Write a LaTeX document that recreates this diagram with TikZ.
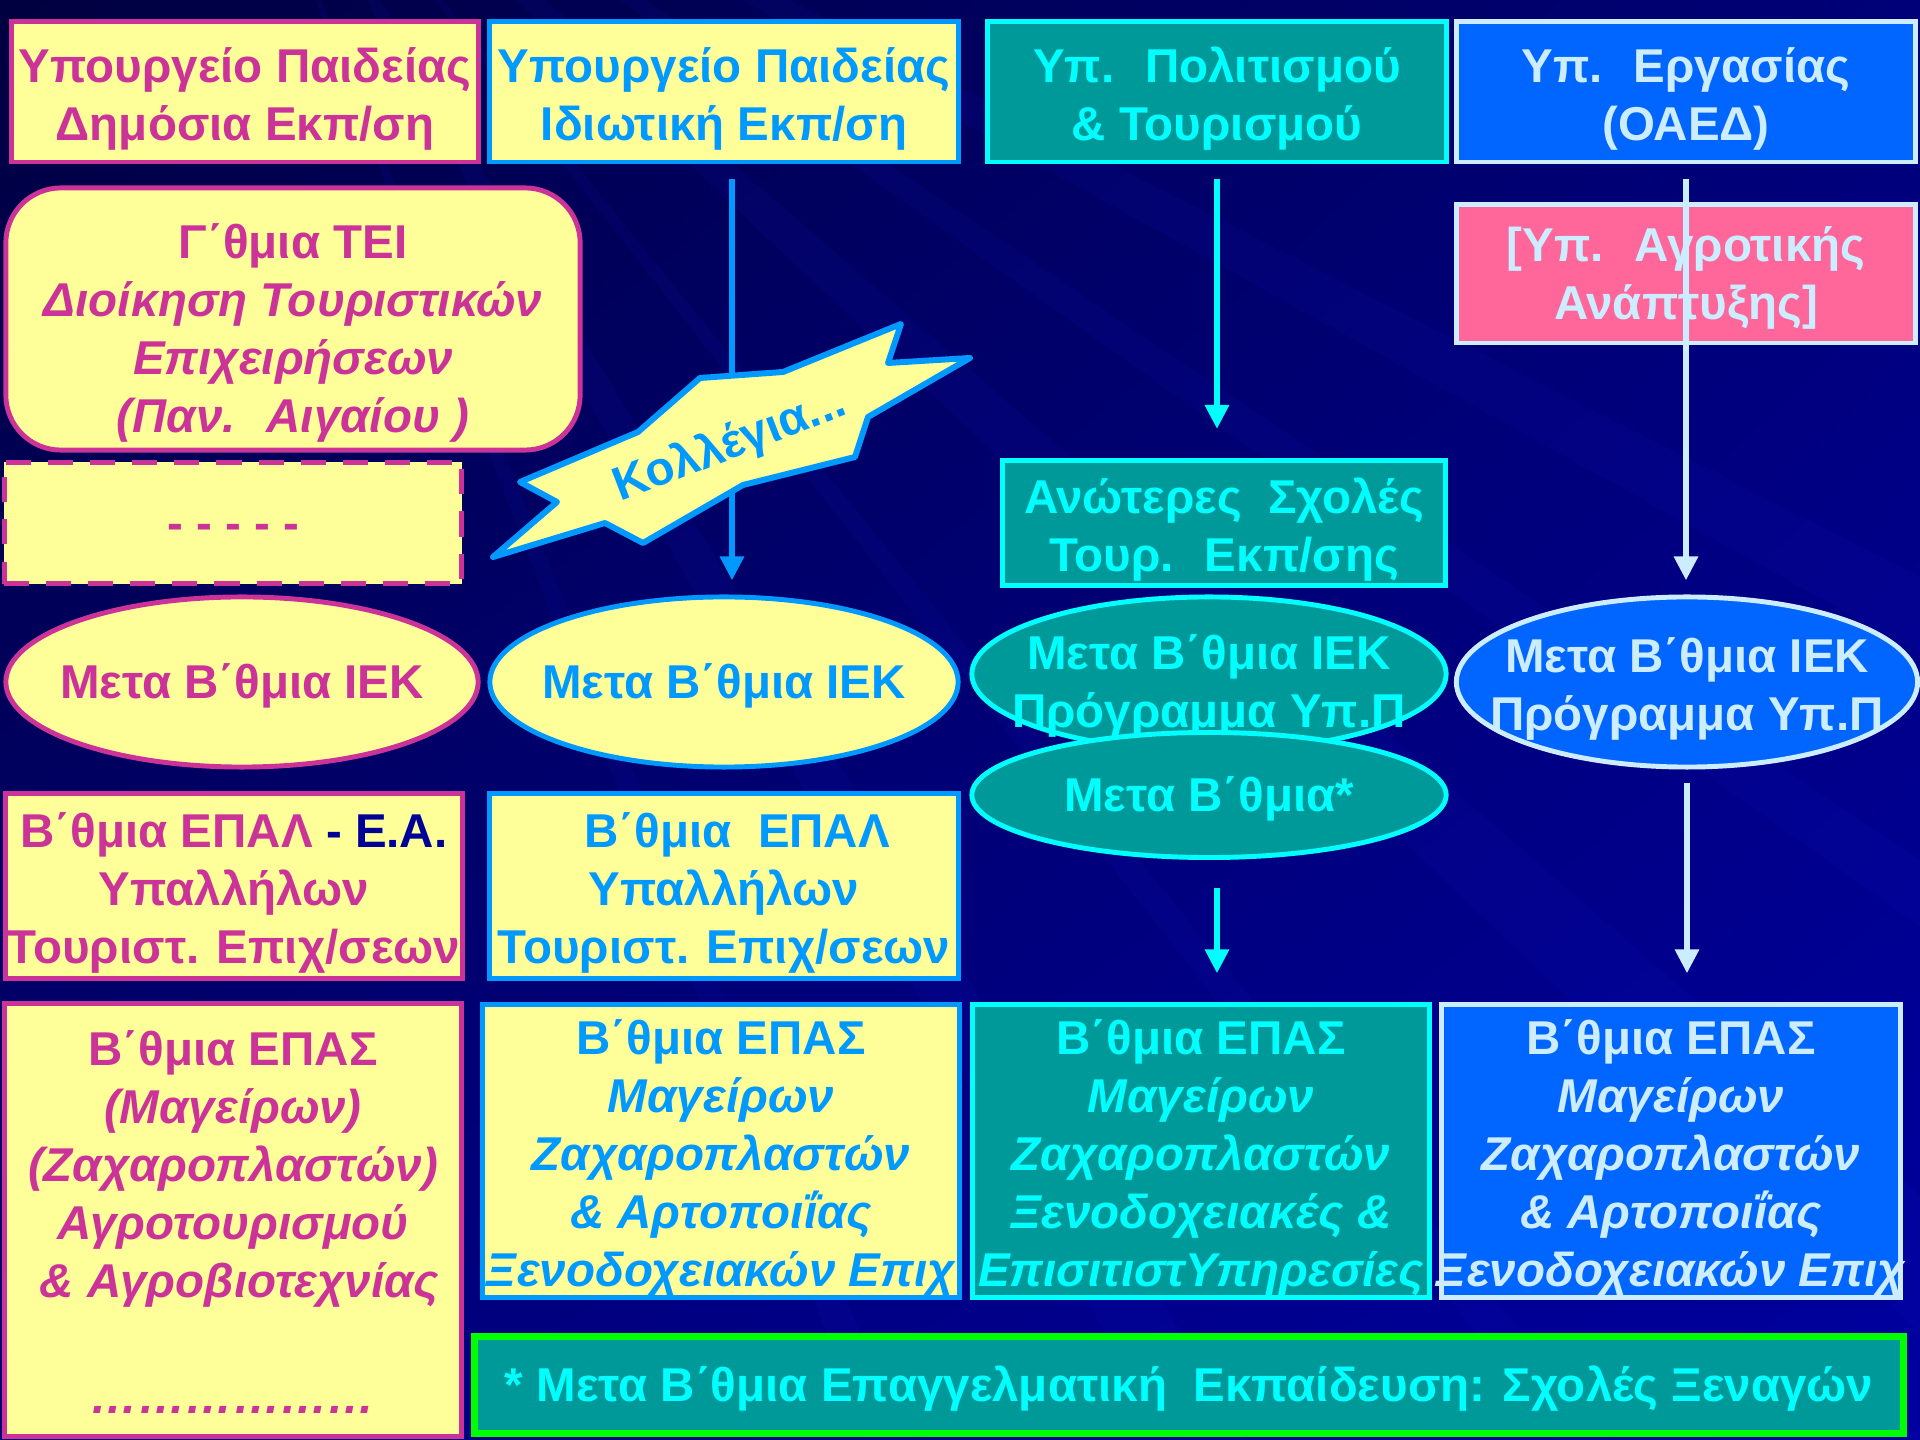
\documentclass[tikz,border=0pt]{standalone}
\usepackage{fontspec}
\setmainfont{Liberation Sans}
\usetikzlibrary{shapes.geometric,arrows.meta,calc,shadings}

\definecolor{ylw}{HTML}{FFFF99}
\definecolor{mag}{HTML}{CC3399}
\definecolor{sky}{HTML}{0099FF}
\definecolor{tea}{HTML}{009999}
\definecolor{cyn}{HTML}{00FFFF}
\definecolor{blu}{HTML}{0066FF}
\definecolor{pale}{HTML}{CCECFF}
\definecolor{pnk}{HTML}{FF6699}
\definecolor{nvy}{HTML}{000099}
\definecolor{grn}{HTML}{00FF00}
\definecolor{bgdark}{HTML}{000040}
\definecolor{bgmid}{HTML}{000078}
\definecolor{bglight}{HTML}{0000A0}
\definecolor{streak}{HTML}{2020D0}

\newcommand\mainsz{\fontsize{13.5pt}{16.5pt}\selectfont}
\newcommand\zw[1]{\makebox[0pt]{#1}}
\newcommand\tall[1]{\rule{0pt}{#1}}

\tikzset{
  panel/.style={draw, line width=1.4pt, inner sep=0pt, align=center, font=\mainsz\bfseries,
    execute at end node={\rule[-2.9pt]{0pt}{0pt}}},
  oneline/.style={execute at begin node={\tall{12.2pt}}},
  oval/.style={ellipse, inner ysep=-12pt},
  magbox/.style={panel, fill=ylw, draw=mag, text=mag},
  skybox/.style={panel, fill=ylw, draw=sky, text=sky},
  teabox/.style={panel, fill=tea, draw=cyn, text=cyn},
  blubox/.style={panel, fill=blu, draw=pale, text=pale},
  sz/.style 2 args={minimum width=#1, minimum height=#2},
  flow/.style={->, line width=1.7pt},
}

\begin{document}
\begin{tikzpicture}[x=0.01cm, y=-0.01cm, >={Triangle[length=0.24cm,width=0.23cm]}]
  \useasboundingbox (0,0) rectangle (1920,1440);
  % background
  \shade[upper left=bgdark, upper right=bgmid, lower left=bgmid, lower right=bglight] (0,0) rectangle (1920,1440);
  \begin{scope}
    \clip (0,0) rectangle (1920,1440);
    \coordinate (o) at (200,-300);
    \foreach \a/\b in {27/29, 34/35.5, 41/43.5, 51/52, 59/61, 68/69}
      \fill[streak, opacity=0.09] (o) -- ($(o)+(\a:3200)$) -- ($(o)+(\b:3200)$) -- cycle;
  \end{scope}

  % ministries
  \node[magbox, sz={4.66cm}{1.40cm}] (pub) at (245,92) {\tall{13.8pt}\zw{Υπουργείο Παιδείας}\\Δημόσια Εκπ/ση};
  \node[skybox, sz={4.69cm}{1.40cm}] (priv) at (724,92) {\tall{13.8pt}\zw{Υπουργείο Παιδείας}\\Ιδιωτική Εκπ/ση};
  \node[teabox, sz={4.58cm}{1.40cm}] (cult) at (1217,92) {\tall{13.8pt}Υπ.~ Πολιτισμού\\\& Τουρισμού};
  \node[blubox, sz={4.58cm}{1.40cm}] (labor) at (1686,92) {\tall{13.8pt}Υπ.~ Εργασίας\\(ΟΑΕΔ)};

  \node[magbox, rounded corners=0.55cm, sz={5.74cm}{2.62cm}] (tei) at (293,319)
    {\tall{18.2pt}Γ΄θμια ΤΕΙ\\\textit{Διοίκηση Τουριστικών}\\\textit{Επιχειρήσεων}\\\textit{(Παν.~ Αιγαίου )}};
  \node[magbox, oneline, dash pattern=on 0.25cm off 0.17cm, sz={4.57cm}{1.21cm}] (more) at (233,523) {- - - - -};
  \node[panel, fill=pnk, draw=pale, text=pale, sz={4.58cm}{1.38cm}] (agri) at (1686,274) {\tall{12.2pt}[Υπ.~ Αγροτικής\\Ανάπτυξης]};
  \node[teabox, sz={4.43cm}{1.25cm}] (anot) at (1224,523) {\tall{13.8pt}Ανώτερες~ Σχολές\\Τουρ.~ Εκπ/σης};

  % IEK
  \node[magbox, oval, oneline, sz={4.72cm}{1.70cm}] (iek1) at (242,682) {\zw{Μετα Β΄θμια ΙΕΚ}};
  \node[skybox, oval, oneline, sz={4.68cm}{1.70cm}] (iek2) at (724,682) {\zw{Μετα Β΄θμια ΙΕΚ}};
  \node[teabox, oval, sz={4.74cm}{1.54cm}] (iek3) at (1209,674) {\tall{17pt}\zw{Μετα Β΄θμια ΙΕΚ}\\\zw{Πρόγραμμα Υπ.Π}};
  \node[blubox, oval, sz={4.61cm}{1.70cm}] (iek4) at (1687,682) {\tall{13.8pt}\zw{Μετα Β΄θμια ΙΕΚ}\\\zw{Πρόγραμμα Υπ.Π}};
  \node[teabox, oval, oneline, sz={4.74cm}{1.25cm}] (meta) at (1209,795) {\zw{Μετα Β΄θμια*}};

  % EPAL
  \node[magbox, sz={4.56cm}{1.85cm}] (epal1) at (234,886)
    {\tall{13.8pt}\zw{Β΄θμια ΕΠΑΛ \textcolor{nvy}{- Ε.Α.}}\\Υπαλλήλων\\\zw{Τουριστ. Επιχ/σεων}};
  \node[skybox, sz={4.68cm}{1.85cm}] (epal2) at (724,886)
    {\tall{13.8pt}~~Β΄θμια~ ΕΠΑΛ\\Υπαλλήλων\\\zw{Τουριστ. Επιχ/σεων}};

  % EPAS
  \node[magbox, sz={4.57cm}{4.33cm}] (epas1) at (233,1220)
    {\tall{13.8pt}Β΄θμια ΕΠΑΣ\\\textit{(Μαγείρων)}\\\textit{(Ζαχαροπλαστών)}\\\textit{Αγροτουρισμού}\\\textit{~\& Αγροβιοτεχνίας}\\[16.5pt]\textit{………………}};
  \node[skybox, sz={4.77cm}{2.92cm}] (epas2) at (721,1151)
    {\tall{13.8pt}Β΄θμια ΕΠΑΣ\\\textit{Μαγείρων}\\\textit{Ζαχαροπλαστών}\\\textit{\& Αρτοποιΐας}\\\zw{\textit{Ξενοδοχειακών Επιχ}}};
  \node[teabox, sz={4.57cm}{2.92cm}] (epas3) at (1201,1151)
    {\tall{13.8pt}Β΄θμια ΕΠΑΣ\\\textit{Μαγείρων}\\\textit{Ζαχαροπλαστών}\\\textit{Ξενοδοχειακές \&}\\\zw{\textit{ΕπισιτιστΥπηρεσίες}}};
  \node[blubox, sz={4.58cm}{2.92cm}] (epas4) at (1671,1151)
    {\tall{13.8pt}Β΄θμια ΕΠΑΣ\\\textit{Μαγείρων}\\\textit{Ζαχαροπλαστών}\\\textit{\& Αρτοποιΐας}\\\zw{\textit{Ξενοδοχειακών Επιχ}}};

  \node[panel, oneline, fill=tea, draw=grn, text=cyn, line width=2pt, sz={14.28cm}{0.96cm}] (guide) at (1189,1385)
    {* Μετα Β΄θμια Επαγγελματική~ Εκπαίδευση: Σχολές Ξεναγών};

  % arrows
  \draw[flow, sky, shorten <=0.14cm, shorten >=0.14cm] ($(priv.south)+(8,0)$) -- ($(priv.south |- iek2.north)+(8,0)$);
  \draw[flow, cyn, shorten <=0.14cm, shorten >=0.29cm] (cult.south) -- (cult.south |- anot.north);
  \draw[flow, pale, shorten <=0.14cm, shorten >=0.14cm] (labor.south) -- (labor.south |- iek4.north);
  \draw[flow, cyn, shorten <=0.28cm, shorten >=0.29cm] ($(meta.south)+(8,0)$) -- ($(meta.south |- epas3.north)+(8,0)$);
  \draw[flow, pale, shorten <=0.13cm, shorten >=0.29cm] (iek4.south) -- (iek4.south |- epas4.north);

  % colleges banner
  \filldraw[fill=ylw, draw=sky, line width=1.7pt, line join=round] (493,557) -- (605,523) -- (643,543) -- (743,485)
    -- (855,457) -- (868,417) -- (970,358) -- (888,363) -- (901,324) -- (783,372) -- (700,378) -- (638,432)
    -- (520,482) -- (557,502) -- cycle;
  \node[text=sky, font=\mainsz\bfseries, rotate=21] (kol) at (730,446) {Κολλέγια...};
\end{tikzpicture}
\end{document}
